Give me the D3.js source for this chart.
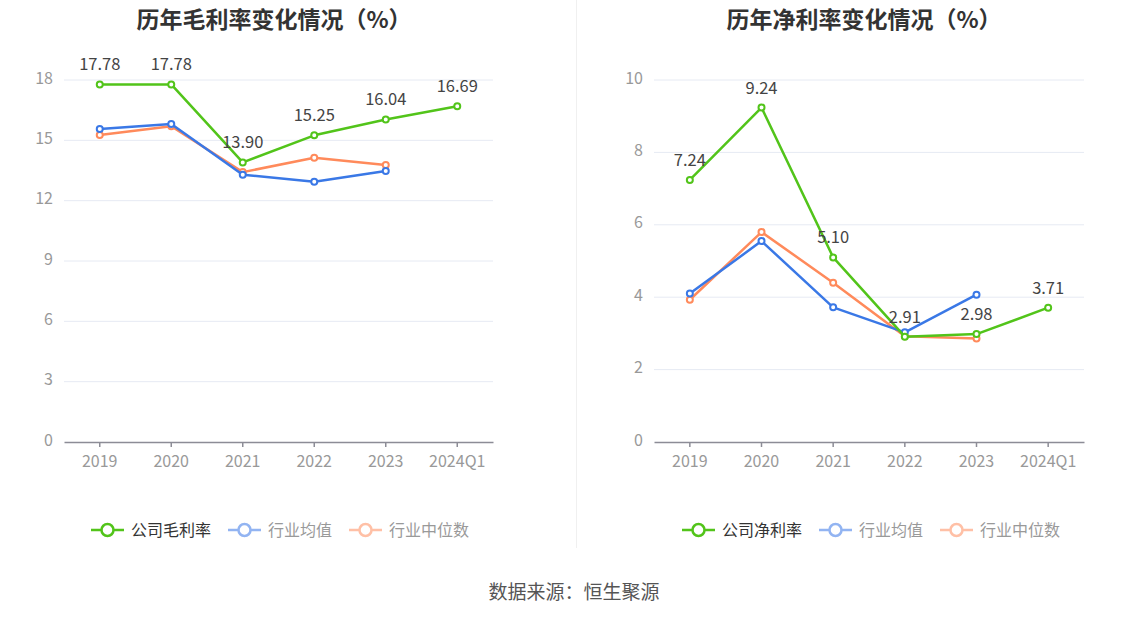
<!DOCTYPE html>
<html>
<head>
<meta charset="utf-8">
<script src="https://cdn.jsdelivr.net/npm/d3@7/dist/d3.min.js"></script>
<style>
  body { margin: 0; background: #fff; }
  svg { display: block; font-family: "Noto Sans CJK SC", "Noto Sans", sans-serif; }
</style>
</head>
<body>
<svg id="chart" width="1148" height="619"></svg>
<script>
// categories and series
const years = ['2019', '2020', '2021', '2022', '2023', '2024Q1'];

const grossCompany = [17.78, 17.78, 13.90, 15.25, 16.04, 16.69];
const grossAvg     = [15.56, 15.81, 13.29, 12.94, 13.47, null];
const grossMedian  = [15.26, 15.70, 13.42, 14.13, 13.77, null];

const netCompany = [7.24, 9.24, 5.10, 2.91, 2.98, 3.71];
const netAvg     = [4.10, 5.55, 3.72, 3.03, 4.07, null];
const netMedian  = [3.93, 5.80, 4.40, 2.92, 2.86, null];

const grossTicks = [0, 3, 6, 9, 12, 15, 18];
const netTicks   = [0, 2, 4, 6, 8, 10];

const seriesNames = { gross: '公司毛利率', net: '公司净利率', avg: '行业均值', median: '行业中位数' };
const colors = { company: '#52c41a', avg: '#3a78e6', median: '#ff8a5b' };
const legendColors = { company: '#52c41a', avg: '#92b4f2', median: '#ffc0a6' };

const svg = d3.select('#chart');

function drawPanel(opts) {
  const { left, right, title, titleX, ticks, yMax, company, avg, median, companyName, legendX } = opts;
  const top = 80, bottom = 442;

  const x = d3.scaleBand().domain(years).range([left, right]);
  const y = d3.scaleLinear().domain([0, yMax]).range([bottom, top]);

  const g = svg.append('g');

  // title
  g.append('text')
    .attr('x', titleX).attr('y', 28)
    .attr('text-anchor', 'middle')
    .style('font-size', '23px').style('font-weight', 'bold')
    .style('fill', '#333')
    .text(title);

  // gridlines
  g.selectAll('.grid').data(ticks.filter(t => t > 0)).join('line')
    .attr('x1', left).attr('x2', right)
    .attr('y1', d => y(d)).attr('y2', d => y(d))
    .attr('stroke', '#e6eaf3').attr('stroke-width', 1);

  // y axis labels
  g.selectAll('.ylab').data(ticks).join('text')
    .attr('x', left - 11).attr('y', d => y(d) - 2)
    .attr('dy', '0.35em').attr('text-anchor', 'end')
    .style('font-size', '16px').style('fill', '#999')
    .text(d => d);

  // x axis
  const xAxis = g.append('g')
    .attr('transform', `translate(0,${bottom})`)
    .call(d3.axisBottom(x).tickSize(5).tickSizeOuter(0));
  xAxis.select('.domain').attr('stroke', '#8c8c96').attr('stroke-width', 1.5);
  xAxis.selectAll('.tick line').attr('stroke', '#8c8c96').attr('stroke-width', 1.5);
  xAxis.selectAll('.tick text')
    .attr('dy', '1.05em')
    .style('font-size', '16px').style('fill', '#999')
    .style('font-family', '"Noto Sans CJK SC", "Noto Sans", sans-serif');

  const cx = (d, i) => x(years[i]) + x.bandwidth() / 2;

  function series(values, color, withLabels) {
    const pts = values.map((v, i) => ({ v, i })).filter(d => d.v !== null);
    const line = d3.line().x(d => cx(d, d.i)).y(d => y(d.v));
    g.append('path').datum(pts)
      .attr('fill', 'none').attr('stroke', color)
      .attr('stroke-width', 2.5).attr('stroke-linejoin', 'round')
      .attr('d', line);
    g.selectAll(null).data(pts).join('circle')
      .attr('cx', d => cx(d, d.i)).attr('cy', d => y(d.v))
      .attr('r', 3).attr('fill', '#fff')
      .attr('stroke', color).attr('stroke-width', 2);
    if (withLabels) {
      g.selectAll(null).data(pts).join('text')
        .attr('x', d => cx(d, d.i)).attr('y', d => y(d.v) - 14)
        .attr('text-anchor', 'middle')
        .style('font-size', '16.5px').style('fill', '#444')
        .text(d => d.v.toFixed(2));
    }
  }

  series(median, colors.median, false);
  series(avg, colors.avg, false);
  series(company, colors.company, true);

  // legend
  const items = [
    { name: companyName, color: legendColors.company, text: '#333', off: 0 },
    { name: seriesNames.avg, color: legendColors.avg, text: '#999', off: 137 },
    { name: seriesNames.median, color: legendColors.median, text: '#999', off: 258 }
  ];
  const lg = g.selectAll('.leg').data(items).join('g')
    .attr('transform', d => `translate(${legendX + d.off},530)`);
  lg.append('line').attr('x1', 0).attr('x2', 33)
    .attr('stroke', d => d.color).attr('stroke-width', 2.5);
  lg.append('circle').attr('cx', 16.5).attr('r', 6)
    .attr('fill', '#fff').attr('stroke', d => d.color).attr('stroke-width', 2.5);
  lg.append('text').attr('x', 40).attr('dy', '0.35em')
    .style('font-size', '16px').style('fill', d => d.text)
    .text(d => d.name);
}

drawPanel({
  left: 64, right: 493, title: '历年毛利率变化情况（%）', titleX: 274,
  ticks: grossTicks, yMax: 18,
  company: grossCompany, avg: grossAvg, median: grossMedian,
  companyName: seriesNames.gross, legendX: 91
});

drawPanel({
  left: 654, right: 1084, title: '历年净利率变化情况（%）', titleX: 864,
  ticks: netTicks, yMax: 10,
  company: netCompany, avg: netAvg, median: netMedian,
  companyName: seriesNames.net, legendX: 682
});

// divider
svg.append('line')
  .attr('x1', 576.5).attr('x2', 576.5).attr('y1', 0).attr('y2', 548)
  .attr('stroke', '#f0f0f0').attr('stroke-width', 1);

// source
svg.append('text')
  .attr('x', 574).attr('y', 599)
  .attr('text-anchor', 'middle')
  .style('font-size', '19px').style('fill', '#555')
  .text('数据来源：恒生聚源');
</script>
</body>
</html>
